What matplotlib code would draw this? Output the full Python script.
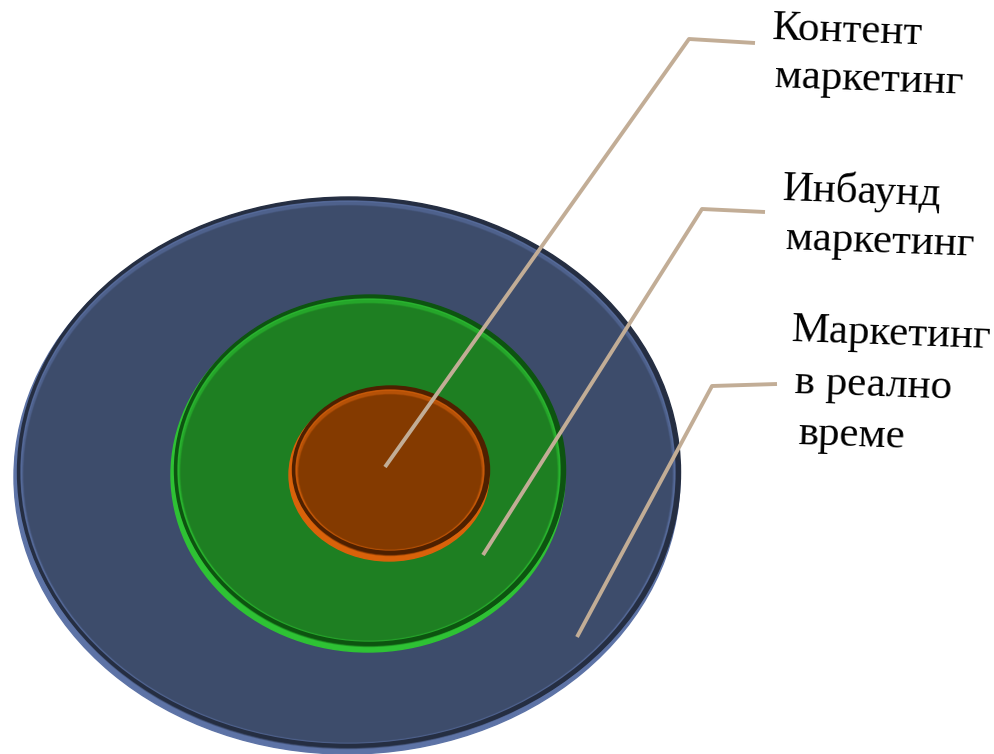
import matplotlib.pyplot as plt
from matplotlib.patches import Ellipse

# layers from outer to inner
layers = ["Маркетинг в реално време", "Инбаунд маркетинг", "Контент маркетинг"]
fill_colors = ["#3d4c6b", "#1e7f22", "#843a00"]
rim_light = ["#5d73a6", "#2ec234", "#d9620a"]
rim_dark = ["#252e42", "#0d5410", "#4e2000"]

# ellipse geometry in pixels (cx, cy, half width, half height)
disks = [(348, 474, 333, 277), (369, 472, 197, 177), (390, 472, 100, 86)]

# label text lines, shown top to bottom
label_lines = [
    ["Контент", "маркетинг"],
    ["Инбаунд", "маркетинг"],
    ["Маркетинг", "в реално", "време"],
]
# leader lines: anchor inside the disk -> bend -> end near text
leaders = [
    [(385, 467), (689, 39), (755, 43)],
    [(483, 555), (702, 209), (765, 212)],
    [(577, 637), (712, 386), (777, 384)],
]
text_pos = [(771, 44), (782, 206), (791, 348)]

fig = plt.figure(figsize=(9.94, 7.54), dpi=100)
ax = fig.add_axes([0, 0, 1, 1])
ax.set_xlim(0, 994)
ax.set_ylim(754, 0)
ax.axis("off")


def bevel_disk(ax, cx, cy, a, b, fill, light, dark, z):
    # outer rim: light below-left, dark above-right
    ax.add_patch(Ellipse((cx - 1, cy + 3), 2 * a, 2 * b, color=light, zorder=z))
    ax.add_patch(Ellipse((cx + 1, cy - 2), 2 * a - 3, 2 * b - 4, color=dark, zorder=z + 0.1))
    # inner bevel: light on top, dark below (soft)
    for k, al in enumerate([0.35, 0.6, 0.9]):
        ax.add_patch(Ellipse((cx, cy + 2.5), 2 * a - 10 - 2 * k, 2 * b - 10 - 2 * k,
                             color=dark, alpha=al, zorder=z + 0.2 + 0.01 * k))
    ax.add_patch(Ellipse((cx, cy - 2), 2 * a - 12, 2 * b - 12, color=light, alpha=0.75, zorder=z + 0.3))
    for k, al in enumerate([0.5, 1.0]):
        ax.add_patch(Ellipse((cx, cy), 2 * a - 17 - 2 * k, 2 * b - 17 - 2 * k,
                             color=fill, alpha=al, zorder=z + 0.4 + 0.01 * k))


for i, (cx, cy, a, b) in enumerate(disks):
    bevel_disk(ax, cx, cy, a, b, fill_colors[i], rim_light[i], rim_dark[i], z=1 + i)

for pts in leaders:
    xs = [p[0] for p in pts]
    ys = [p[1] for p in pts]
    ax.plot(xs, ys, color="#c2ad96", linewidth=2.8, solid_capstyle="butt", zorder=10)

for (tx, ty), lines in zip(text_pos, label_lines):
    for j, line in enumerate(lines):
        ax.text(tx + 3 * j, ty + 50 * j, line, fontsize=31, family="Liberation Serif",
                ha="left", va="baseline", color="black", rotation=-2, zorder=11)

plt.savefig("out.png", dpi=100)
